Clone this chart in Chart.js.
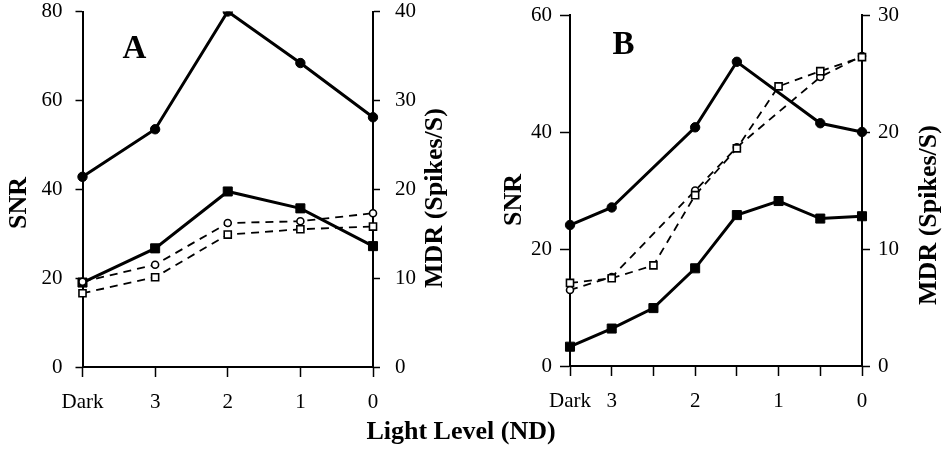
<!DOCTYPE html>
<html>
<head>
<meta charset="utf-8">
<script src="https://cdn.jsdelivr.net/npm/chart.js@4.4.0/dist/chart.umd.min.js"></script>
<style>
  body { margin: 0; background: #fff; }
  #wrap { position: relative; width: 942px; height: 449px; overflow: hidden; }
  #panelA { position: absolute; left: 0; top: 0; }
  #panelB { position: absolute; left: 470px; top: 0; }
  #xtitle { position: absolute; left: 461px; top: 431px; transform: translate(-50%, -50%);
    font: bold 26px 'Liberation Serif', serif; color: #000; white-space: nowrap; }
</style>
</head>
<body>
<div id="wrap">
  <canvas id="panelA" width="470" height="449"></canvas>
  <canvas id="panelB" width="472" height="449"></canvas>
  <div id="xtitle">Light Level (ND)</div>
</div>
<script>
// panel A : light levels (ND)
var levelsA = ['Dark', '3', '2', '1', '0'];
var ticksA = ['Dark', '3', '2', '1', '0'];
var snrCircleA = [42.8, 53.5, 80.0, 68.4, 56.2];
var snrSquareA = [19.0, 26.7, 39.5, 35.7, 27.2];
var mdrCircleA = [9.6, 11.5, 16.2, 16.4, 17.3];
var mdrSquareA = [8.3, 10.1, 14.9, 15.5, 15.8];

// panel B : half ND steps, only whole steps are labelled
var levelsB = ['Dark', '3', '2.5', '2', '1.5', '1', '0.5', '0'];
var ticksB = ['Dark', '3', '', '2', '', '1', '', '0'];
var snrCircleB = [24.1, 27.1, null, 40.8, 52.0, null, 41.5, 40.0];
var snrSquareB = [3.3, 6.4, 9.9, 16.7, 25.8, 28.2, 25.2, 25.6];
var mdrCircleB = [6.5, 7.6, null, 15.0, 18.7, null, 24.7, 26.5];
var mdrSquareB = [7.1, 7.5, 8.6, 14.6, 18.6, 23.9, 25.2, 26.4];

var FONT = "'Liberation Serif', serif";

var panelText = {
  id: 'panelText',
  afterDraw: function(chart, args, opts) {
    var ctx = chart.ctx;
    ctx.save();
    ctx.fillStyle = '#000';
    ctx.textAlign = 'center';
    ctx.textBaseline = 'middle';
    opts.items.forEach(function(t) {
      ctx.save();
      ctx.translate(t.x, t.y);
      if (t.rot) ctx.rotate(-Math.PI / 2);
      ctx.font = 'bold ' + t.size + 'px ' + FONT;
      ctx.fillText(t.text, 0, 0);
      ctx.restore();
    });
    ctx.restore();
  }
};

function solid(data, style, radius) {
  return {
    data: data,
    yAxisID: 'ySnr',
    borderColor: '#000',
    borderWidth: 3,
    pointStyle: style,
    pointRadius: radius,
    pointBackgroundColor: '#000',
    pointBorderColor: '#000',
    pointBorderWidth: 1,
    spanGaps: true,
    tension: 0
  };
}

function dashed(data, style, radius) {
  return {
    data: data,
    yAxisID: 'yMdr',
    borderColor: '#000',
    borderWidth: 1.8,
    borderDash: [8, 6],
    pointStyle: style,
    pointRadius: radius,
    pointBackgroundColor: '#fff',
    pointBorderColor: '#000',
    pointBorderWidth: 1.6,
    spanGaps: true,
    tension: 0
  };
}

function make_panel(id, p) {
  var ctx = document.getElementById(id).getContext('2d');
  return new Chart(ctx, {
    type: 'line',
    data: {
      labels: p.levels,
      datasets: [
        dashed(p.mdrSquare, 'rect', 5),
        dashed(p.mdrCircle, 'circle', 3.5),
        solid(p.snrSquare, 'rect', 6.4),
        solid(p.snrCircle, 'circle', 4.7)
      ]
    },
    options: {
      responsive: false,
      animation: false,
      layout: { padding: { top: p.top, left: 0, right: 0, bottom: 0 } },
      plugins: {
        legend: { display: false },
        tooltip: { enabled: false },
        panelText: { items: p.text }
      },
      scales: {
        x: {
          type: 'category',
          offset: false,
          grid: { drawOnChartArea: false, drawTicks: true, tickLength: 10, tickWidth: 1.5, tickColor: '#000' },
          border: { display: true, color: '#000', width: 2 },
          ticks: {
            color: '#000', font: { family: FONT, size: 21 }, padding: 13,
            autoSkip: false, maxRotation: 0,
            callback: function(v, i) { return p.ticks[i]; }
          },
          afterFit: function(s) { s.height = p.xHeight; s.paddingLeft = 0; s.paddingRight = 0; }
        },
        ySnr: {
          position: 'left',
          min: 0, max: p.snrMax,
          grid: { drawOnChartArea: false, drawTicks: true, tickLength: p.leftTick, tickWidth: 1.5, tickColor: '#000' },
          border: { display: true, color: '#000', width: 2 },
          ticks: { stepSize: p.snrStep, color: '#000', font: { family: FONT, size: 21 }, padding: p.leftPad },
          afterFit: function(s) { s.width = p.leftW; s.paddingTop = 0; s.paddingBottom = 0; }
        },
        yMdr: {
          position: 'right',
          min: 0, max: p.mdrMax,
          grid: { drawOnChartArea: false, drawTicks: true, tickLength: p.rightTick, tickWidth: 1.5, tickColor: '#000' },
          border: { display: true, color: '#000', width: 2 },
          ticks: { stepSize: p.mdrStep, color: '#000', font: { family: FONT, size: 21 }, padding: p.rightPad },
          afterFit: function(s) { s.width = p.rightW; s.paddingTop = 0; s.paddingBottom = 0; }
        }
      }
    },
    plugins: [panelText]
  });
}

make_panel('panelA', {
  levels: levelsA, ticks: ticksA,
  snrCircle: snrCircleA, snrSquare: snrSquareA, mdrCircle: mdrCircleA, mdrSquare: mdrSquareA,
  snrMax: 80, snrStep: 20, mdrMax: 40, mdrStep: 10,
  top: 11.5, xHeight: 82, leftW: 82.5, rightW: 97,
  leftTick: 7, leftPad: 13, rightTick: 7, rightPad: 15,
  text: [
    { text: 'A', x: 134.5, y: 49, size: 33 },
    { text: 'SNR', x: 19, y: 203, size: 26, rot: true },
    { text: 'MDR (Spikes/S)', x: 435, y: 198, size: 26, rot: true }
  ]
});

make_panel('panelB', {
  levels: levelsB, ticks: ticksB,
  snrCircle: snrCircleB, snrSquare: snrSquareB, mdrCircle: mdrCircleB, mdrSquare: mdrSquareB,
  snrMax: 60, snrStep: 20, mdrMax: 30, mdrStep: 10,
  top: 15, xHeight: 83, leftW: 100, rightW: 80,
  leftTick: 10, leftPad: 8, rightTick: 8, rightPad: 8,
  text: [
    { text: 'B', x: 153.5, y: 45.5, size: 33 },
    { text: 'SNR', x: 44, y: 200, size: 26, rot: true },
    { text: 'MDR (Spikes/S)', x: 459, y: 215, size: 26, rot: true }
  ]
});
</script>
</body>
</html>
